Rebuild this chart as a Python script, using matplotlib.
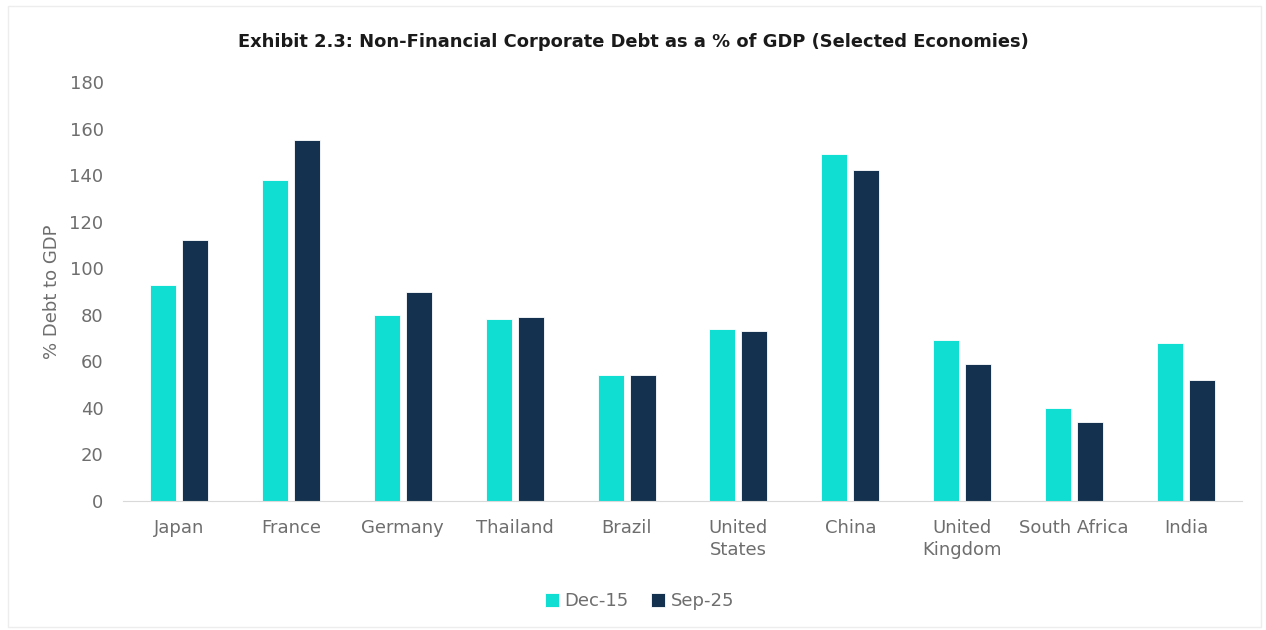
import numpy as np
import matplotlib.pyplot as plt
from matplotlib.patches import Rectangle

countries = ["Japan", "France", "Germany", "Thailand", "Brazil", "United\nStates",
             "China", "United\nKingdom", "South Africa", "India"]
dec15 = [93, 138, 80, 78, 54, 74, 149, 69, 40, 68]
sep25 = [112, 155, 90, 79, 54, 73, 142, 59, 34, 52]

TEAL = "#10DED3"
NAVY = "#14324F"
GREY = "#6E6E6E"

plt.rcParams["font.family"] = ["DejaVu Sans"]

fig = plt.figure(figsize=(12.66, 6.3), dpi=100)
fig.patches.append(Rectangle((0.006, 0.005), 0.99, 0.985, transform=fig.transFigure,
                             fill=False, edgecolor="#EDEDED", lw=1))
ax = fig.add_axes([0.0972, 0.2048, 0.8838, 0.665])

x = np.arange(len(countries))
w = 0.232
off = 0.143
ax.bar(x - off, dec15, w, color=TEAL, edgecolor="white", lw=0.6, label="Dec-15")
ax.bar(x + off, sep25, w, color=NAVY, edgecolor="white", lw=0.6, label="Sep-25")

ax.set_xlim(-0.5, len(countries) - 0.5)
ax.set_ylim(0, 180)
ax.set_yticks(range(0, 181, 20))
ax.set_xticks(x)
ax.set_xticklabels(countries, linespacing=1.25)
ax.tick_params(axis="both", length=0, labelsize=13, colors=GREY)
ax.tick_params(axis="x", pad=13)
ax.tick_params(axis="y", pad=14)
for s in ["top", "right", "left"]:
    ax.spines[s].set_visible(False)
ax.spines["bottom"].set_color("#D9D9D9")

ax.set_ylabel("% Debt to GDP", fontsize=13, color=GREY, labelpad=6)
fig.text(0.5, 0.934, "Exhibit 2.3: Non-Financial Corporate Debt as a % of GDP (Selected Economies)",
         ha="center", va="center", fontsize=12.9, fontweight="bold", color="#1A1A1A")

fig.legend(loc="center", bbox_to_anchor=(0.505, 0.046), ncol=2, frameon=False,
           fontsize=13, labelcolor=GREY, handlelength=0.8, handleheight=0.8,
           handletextpad=0.3, columnspacing=1.2)

fig.savefig("out.png", dpi=100)
